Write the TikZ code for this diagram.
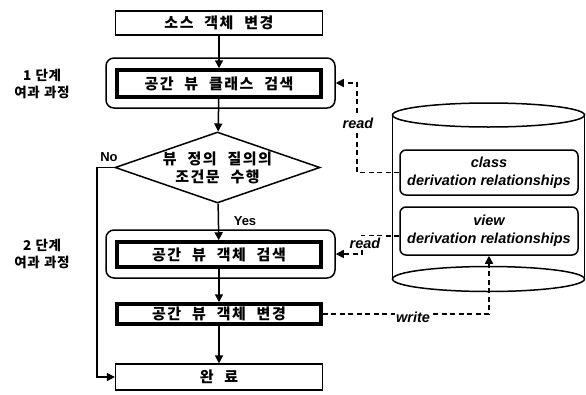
\documentclass[tikz,border=0pt]{standalone}
\usepackage{fontspec}
\setmainfont{Liberation Sans}
\newfontfamily\kr[LetterSpace=10,WordSpace=2.2]{Noto Sans CJK KR}
\newfontfamily\krtight[LetterSpace=4,WordSpace=1.2]{Noto Sans CJK KR}
\usetikzlibrary{arrows.meta,shapes.geometric}

\begin{document}
\begin{tikzpicture}[x=1pt,y=-1pt,
  krtext/.style={font=\kr\bfseries\fontsize{15}{18}\selectfont, align=center, inner sep=0pt},
  entext/.style={font=\bfseries\itshape\fontsize{14.5}{18}\selectfont, align=center, inner sep=0pt},
  thinbox/.style={krtext, draw, line width=1.2pt, minimum width=207pt},
  thickbox/.style={krtext, draw, line width=3.5pt, minimum width=204pt},
  stagebox/.style={draw, line width=1.5pt, rounded corners=8pt, minimum width=229pt},
  decision/.style={krtext, draw, diamond, aspect=2.9, line width=1.5pt, minimum width=205pt, minimum height=71pt},
  relbox/.style={entext, draw, line width=1.5pt, rounded corners=6pt, minimum width=178pt},
  flow/.style={line width=1.5pt, -{Triangle[length=8pt,width=8pt]}},
  dataflow/.style={line width=1.5pt, dash pattern=on 5pt off 3.5pt, -{Triangle[length=8pt,width=8pt]}},
  tag/.style={entext, fill=white, inner sep=1.5pt},
  branch/.style={font=\bfseries\fontsize{13}{15}\selectfont, inner sep=0pt},
  stagelabel/.style={align=center, inner sep=0pt, font=\krtight\bfseries\fontsize{13.5}{17}\selectfont}
]
\useasboundingbox (0,0) rectangle (586,394);

% stage frames
\node[stagebox, minimum height=50pt] (s1) at (220.5,83) {};
\node[stagebox, minimum height=48pt] (s2) at (220.5,254) {};

% main flow
\node[thinbox, minimum height=24pt] (src) at (219,23) {소스 객체 변경};
\node[thickbox, minimum height=27pt] (cls) at (219,83.5) {공간 뷰 클래스 검색};
\node[decision] (cond) at (217.5,167.5) {뷰 정의 질의의\\조건문 수행};
\node[thickbox, minimum height=25pt] (find) at (219,254.5) {공간 뷰 객체 검색};
\node[thickbox, minimum height=20pt] (chg) at (219,314) {공간 뷰 객체 변경};
\node[thinbox, minimum height=26pt] (done) at (219,377) {완 료};

% stage labels
\node[stagelabel] (l1) at (42,83.5) {1 단계\\여과 과정};
\node[stagelabel] (l2) at (42,254) {2 단계\\여과 과정};

\draw[flow] (src) -- (cls);
\draw[flow] (cls) -- (cond);
\draw[flow] (cond) -- (find);
\node[branch] (yes) at (245,221) {Yes};
\draw[flow] (find) -- (chg);
\draw[flow] (chg) -- (done);

\coordinate (nob) at (97,167.5);
\draw[flow] (cond.west) -- (nob) |- (done.west);
\node[branch] (no) at (109,157) {No};

% repository
\draw[line width=1.5pt] (392.5,115) -- (392.5,279);
\draw[line width=1.5pt] (584.5,115) -- (584.5,279);
\draw[line width=1.5pt, fill=white] (488.5,115) ellipse [x radius=96pt, y radius=12pt];
\draw[line width=1.5pt] (488.5,279) ellipse [x radius=96pt, y radius=12.5pt];

\node[relbox, minimum height=45pt] (crel) at (489,172.5) {class\\derivation relationships};
\node[relbox, minimum height=48pt] (vrel) at (489,231) {view\\derivation relationships};

% reads and writes
\coordinate (r1) at (357,83);
\draw[dataflow] (crel.west) -| (r1) -- (s1.east);
\node[tag] (t1) at (358,123) {read};

\coordinate (r2) at (362,254);
\draw[dataflow] ([yshift=-5pt]vrel.west) -| (r2) -- (s2.east);
\node[tag] (t2) at (365,243) {read};

\draw[dataflow] (chg.east) -| (vrel.south);
\node[tag] (t3) at (413,317) {write};
\end{tikzpicture}
\end{document}
